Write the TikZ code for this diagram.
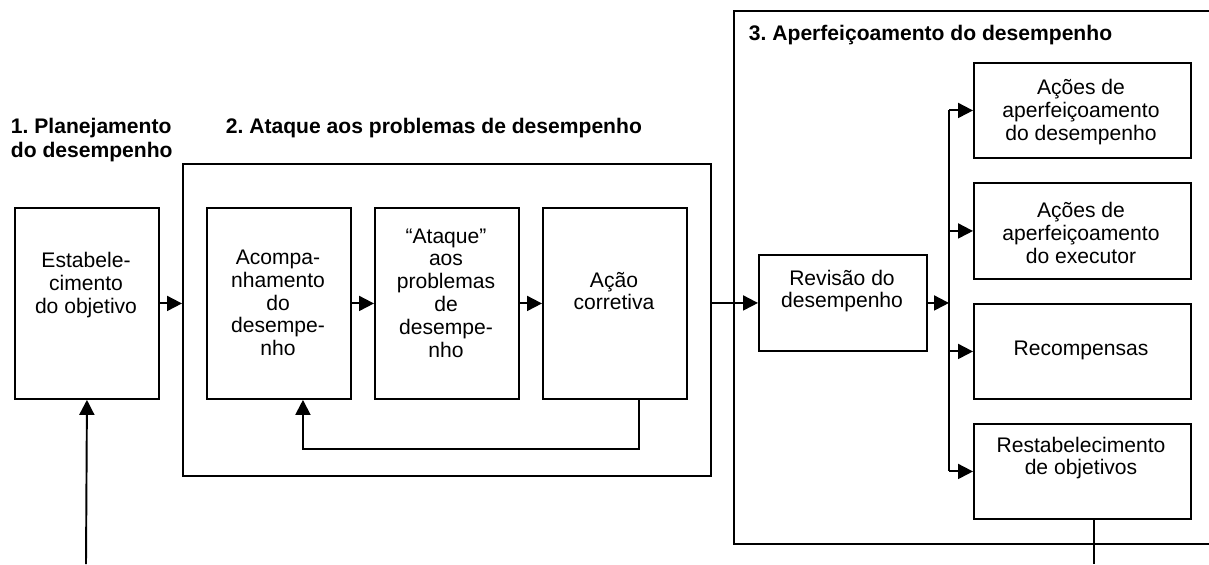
\documentclass[tikz,border=0pt]{standalone}
\usepackage{fontspec}
\setmainfont{Liberation Sans}
\usetikzlibrary{positioning, arrows.meta}
\frenchspacing

\begin{document}
\begin{tikzpicture}[x=0.02cm, y=-0.02cm, >={Triangle[length=0.3cm, width=0.3cm]}, line width=1.1pt,
        box/.style={draw, line width=1.1pt, inner sep=0pt, anchor=north west},
        txt/.style={align=center, inner sep=0pt, font=\fontsize{12}{13}\selectfont},
        head/.style={align=left, inner sep=0pt, anchor=north west, font=\bfseries\fontsize{12}{14}\selectfont}]
        \useasboundingbox (0,0) rectangle (1209,564);
        \clip (0,0) rectangle (1209,564);

        % groups
        \node[box, minimum width=10.56cm, minimum height=6.24cm] (grp2) at (182,163) {};
        \node[box, minimum width=9.8cm, minimum height=10.66cm] (grp3) at (733,10) {};
        \node[head] (h1) at (10,117) {1. Planejamento\\do desempenho};
        \node[head] (h2) at (225,117) {2. Ataque aos problemas de desempenho};
        \node[head] (h3) at (748,24) {3. Aperfeiçoamento do desempenho};

        % boxes
        \node[box, minimum width=2.88cm, minimum height=3.82cm] (est) at (14,207) {};
        \node[box, minimum width=2.88cm, minimum height=3.82cm] (acomp) at (206,207) {};
        \node[box, minimum width=2.88cm, minimum height=3.82cm] (atq) at (374,207) {};
        \node[box, minimum width=2.88cm, minimum height=3.82cm] (acao) at (542,207) {};
        \node[box, minimum width=3.36cm, minimum height=1.92cm] (rev) at (758,254) {};
        \node[box, minimum width=4.34cm, minimum height=1.9cm] (acA) at (973,62) {};
        \node[box, minimum width=4.34cm, minimum height=1.92cm] (acB) at (973,182) {};
        \node[box, minimum width=4.34cm, minimum height=1.9cm] (rec) at (973,303) {};
        \node[box, minimum width=4.34cm, minimum height=1.9cm] (resD) at (973,423) {};

        % texts
        \node[txt] (estT) at (86,285) {Estabele-\\cimento\\do objetivo};
        \node[txt] (acompT) at (278,303) {Acompa-\\nhamento\\do\\desempe-\\nho};
        \node[txt] (atqT) at (446,293) {``Ataque''\\aos\\problemas\\de\\desempe-\\nho};
        \node[txt] (acaoT) at (614,291) {Ação\\corretiva};
        \node[txt] (revT) at (842,291) {Revisão do\\desempenho};
        \node[txt] (acAT) at (1081,112) {Ações de\\aperfeiçoamento\\do desempenho};
        \node[txt] (acBT) at (1081,233) {Ações de\\aperfeiçoamento\\do executor};
        \node[txt] (recT) at (1081,350) {Recompensas};
        \node[txt] (resDT) at (1081,458) {Restabelecimento\\de objetivos};

        \coordinate (inp) at (86,564);
        \coordinate (outp) at (1094,564);
        \coordinate (bus) at (949,303);

        % connectors
        \draw[->] (inp) -- (est.south);
        \draw[->] (est.east) -- (est.east -| grp2.west);
        \draw[->] (acomp.east) -- (atq.west);
        \draw[->] (atq.east) -- (acao.west);
        \draw[->] ([xshift=0.48cm]acao.south) -- ++(0,49) -| ([xshift=0.48cm]acomp.south);
        \draw[->] (rev.west -| grp2.east) -- (rev.west);
        \draw[->] (rev.east) -- (rev.east -| bus);
        \draw (acA.west -| bus) -- (resD.west -| bus);
        \draw[->] (acA.west -| bus) -- (acA.west);
        \draw[->] (acB.west -| bus) -- (acB.west);
        \draw[->] (rec.west -| bus) -- (rec.west);
        \draw[->] (resD.west -| bus) -- (resD.west);
        \draw (resD.south -| outp) -- (outp);
\end{tikzpicture}
\end{document}
